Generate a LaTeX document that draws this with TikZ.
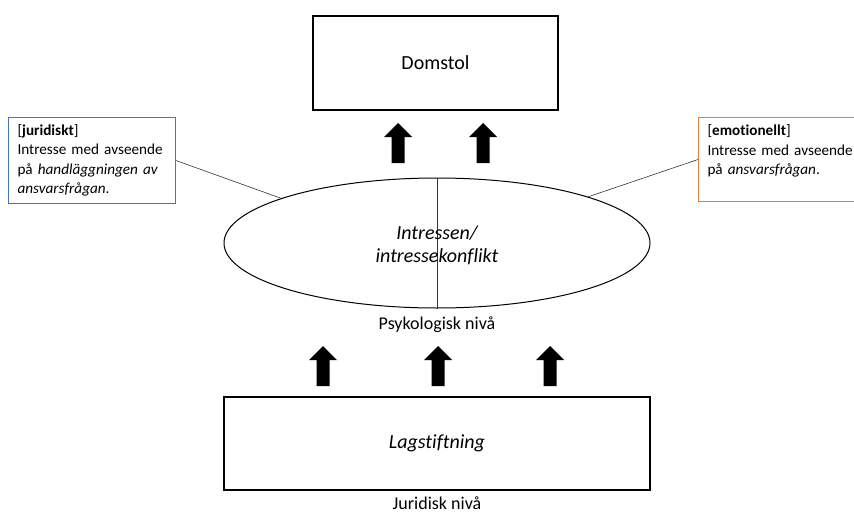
\documentclass[tikz,border=0pt]{standalone}
\usepackage{fontspec}
\setmainfont{Carlito}[Ligatures=NoCommon]
\usetikzlibrary{shapes.geometric}

\definecolor{jurblue}{RGB}{68,114,196}
\definecolor{emoorange}{RGB}{237,125,49}

\tikzset{
  levelbox/.style={draw, line width=1.2pt, inner sep=0pt},
  notebox/.style={draw, line width=1pt, fill=white, text width=155pt, inner xsep=9pt,
    inner ysep=7pt, minimum height=84pt, align=left, anchor=north west,
    font=\fontsize{15.2}{19.5}\selectfont},
  levellabel/.style={anchor=base, font=\fontsize{18}{22}\selectfont},
  link/.style={line width=0.6pt, black!80},
}

\begin{document}
\begin{tikzpicture}[x=1pt,y=-1pt]
\useasboundingbox (0,0) rectangle (854,514);

% boxes
\node[levelbox, minimum width=245pt, minimum height=94pt, font=\fontsize{20}{24}\selectfont] (domstol) at (435.5,63) {Domstol};
\node[draw, ellipse, line width=1pt, inner sep=0pt, minimum width=426pt, minimum height=130pt] (intresse) at (437,243) {};
\draw[link] (intresse.north) -- (intresse.south);
\node[align=center, font=\fontsize{20}{23}\selectfont\itshape] (intressetext) at (437,245) {Intressen/\\intressekonflikt};
\node[levellabel] (psyk) at (437,329) {Psykologisk nivå};
\node[levelbox, minimum width=426pt, minimum height=93pt, font=\fontsize{20}{24}\selectfont\itshape] (lag) at (437,443.5) {Lagstiftning};
\node[levellabel] (jur) at (437,509) {Juridisk nivå};

% side notes
\node[notebox, draw=jurblue, text width=149pt] (juridiskt) at (8,117) {[\textbf{juridiskt}]\\Intresse med avseende\\på \textit{handläggningen av}\\\textit{ansvarsfrågan}.};
\node[notebox, draw=emoorange] (emotionellt) at (698,117) {[\textbf{emotionellt}]\\Intresse med avseende\\på \textit{ansvarsfrågan}.\\\mbox{}};

\draw[link] (juridiskt.east) -- (intresse.164);
\draw[link] (emotionellt.west) -- (intresse.17);

% block arrows
\foreach \x/\y in {398/143, 483/143, 323/366, 438/366, 550/366} {
\fill (\x-6.5,\y+20) -- (\x-6.5,\y-6) -- (\x-14,\y-6) -- (\x,\y-20) -- (\x+14,\y-6) -- (\x+6.5,\y-6) -- (\x+6.5,\y+20) -- cycle;
}

\end{tikzpicture}
\end{document}
